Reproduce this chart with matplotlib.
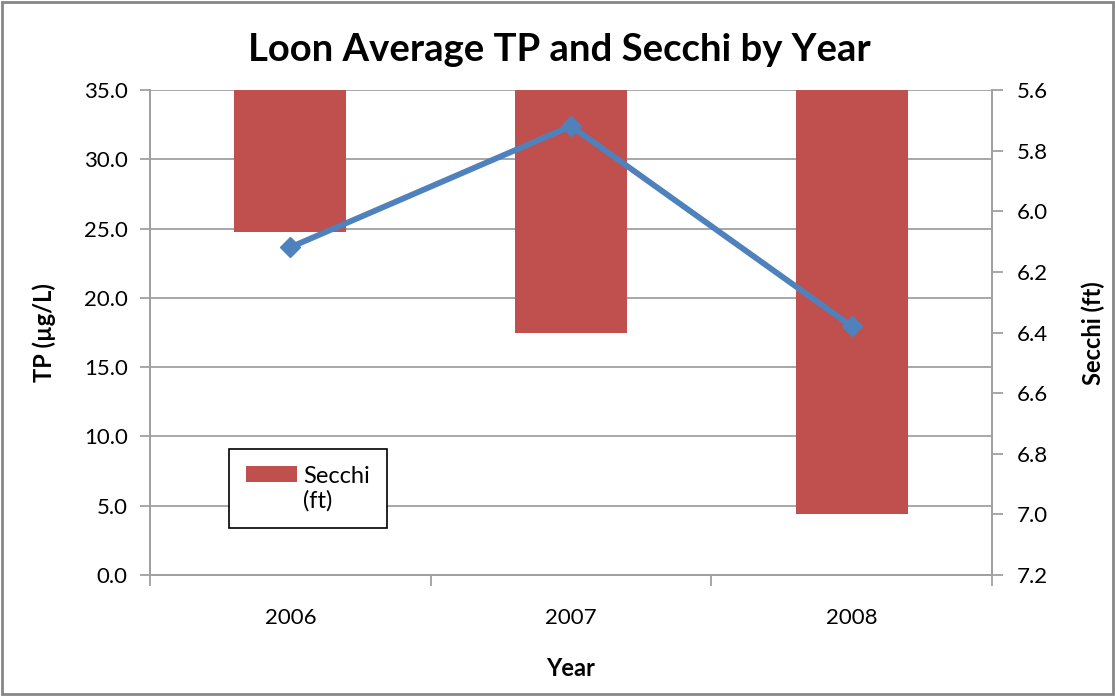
import matplotlib
matplotlib.use("Agg")
import matplotlib.pyplot as plt
from matplotlib.patches import Rectangle

years = ["2006", "2007", "2008"]
tp_values = [23.65, 32.4, 17.95]
secchi_values = [6.07, 6.40, 7.00]
tp_ticks = [0, 5, 10, 15, 20, 25, 30, 35]
secchi_ticks = [5.6, 5.8, 6.0, 6.2, 6.4, 6.6, 6.8, 7.0, 7.2]

FONT = "Lato"
plt.rcParams['font.family'] = [FONT, 'DejaVu Sans']

BAR_COLOR = "#C0504D"
LINE_COLOR = "#4F81BD"
GRAY = "#A0A0A0"

fig = plt.figure(figsize=(11.15, 6.96), dpi=100)
ax = fig.add_axes([150/1115, 1-575/696, (992-150)/1115, (575-90)/696])
ax2 = ax.twinx()

x = list(range(len(years)))

# primary axis: TP (gridlines)
ax.set_xlim(-0.5, len(years)-0.5)
ax.set_ylim(0, 35)
ax.set_yticks(tp_ticks)
ax.set_yticklabels([f"{v:.1f}" for v in tp_ticks])
ax.yaxis.grid(True, color=GRAY, linewidth=1.3)
ax.set_axisbelow(True)

# secondary axis: Secchi bars hanging from the top
base = secchi_ticks[0]
ax2.bar(x, [v - base for v in secchi_values], bottom=base, width=0.4,
        color=BAR_COLOR, label="Secchi", zorder=2)
ax2.set_ylim(secchi_ticks[-1], secchi_ticks[0])
ax2.set_yticks(secchi_ticks)
ax2.set_yticklabels([f"{v:.1f}" for v in secchi_ticks])

# TP line drawn on top, using primary data coordinates
ax2.plot(x, tp_values, color=LINE_COLOR, linewidth=4.2, marker="D",
         markersize=10.5, transform=ax.transData, zorder=3)

# x ticks at category boundaries, labels at centers
ax.set_xticks([-0.5, 0.5, 1.5, 2.5])
ax.set_xticklabels([])
ax.set_xticks(x, minor=True)
ax.set_xticklabels(years, minor=True)
ax.tick_params(axis="x", which="minor", length=0, pad=24, labelsize=16)
ax.tick_params(axis="x", which="major", length=8, color=GRAY, width=1.3)
ax.tick_params(axis="y", length=7, color=GRAY, width=1.3, labelsize=16, pad=9)
ax2.tick_params(axis="y", length=8, color=GRAY, width=1.3, labelsize=16, pad=10)

for a in (ax, ax2):
    for s in ("left", "right", "bottom"):
        a.spines[s].set_color(GRAY)
        a.spines[s].set_linewidth(1.3)
    a.spines["top"].set_visible(False)

# labels
fig.text(559/1115, 1-50/696, "Loon Average TP and Secchi by Year", ha="center",
         va="center", fontsize=27.5, fontweight="bold")
fig.text(44/1115, 1-333/696, "TP (µg/L)", rotation=90, ha="center",
         va="center", fontsize=17, fontweight="bold")
fig.text(1093/1115, 1-333/696, "Secchi (ft)", rotation=90, ha="center",
         va="center", fontsize=17, fontweight="bold")
fig.text(571/1115, 1-669/696, "Year", ha="center", va="center",
         fontsize=17, fontweight="bold")

# legend
handles, labels = ax2.get_legend_handles_labels()
blank = Rectangle((0, 0), 1, 1, fc="none", ec="none")
leg = ax2.legend([handles[0], blank], ["Secchi", "(ft)"],
                 loc="upper left", bbox_to_anchor=(229/1115, 1-449/696),
                 bbox_transform=fig.transFigure, fontsize=17,
                 fancybox=False, edgecolor="black", framealpha=1,
                 handlelength=2.2, handleheight=0.65, labelspacing=0.15,
                 borderpad=0.7, handletextpad=0.25, borderaxespad=0)
leg.get_frame().set_linewidth(1.2)
for t in leg.get_texts():
    t.set_color("black")

# figure border
fig.patches.append(Rectangle((0.002, 0.003), 0.996, 0.994,
                             transform=fig.transFigure, fill=False,
                             edgecolor="#868686", linewidth=2))

fig.savefig("out.png", dpi=100)
